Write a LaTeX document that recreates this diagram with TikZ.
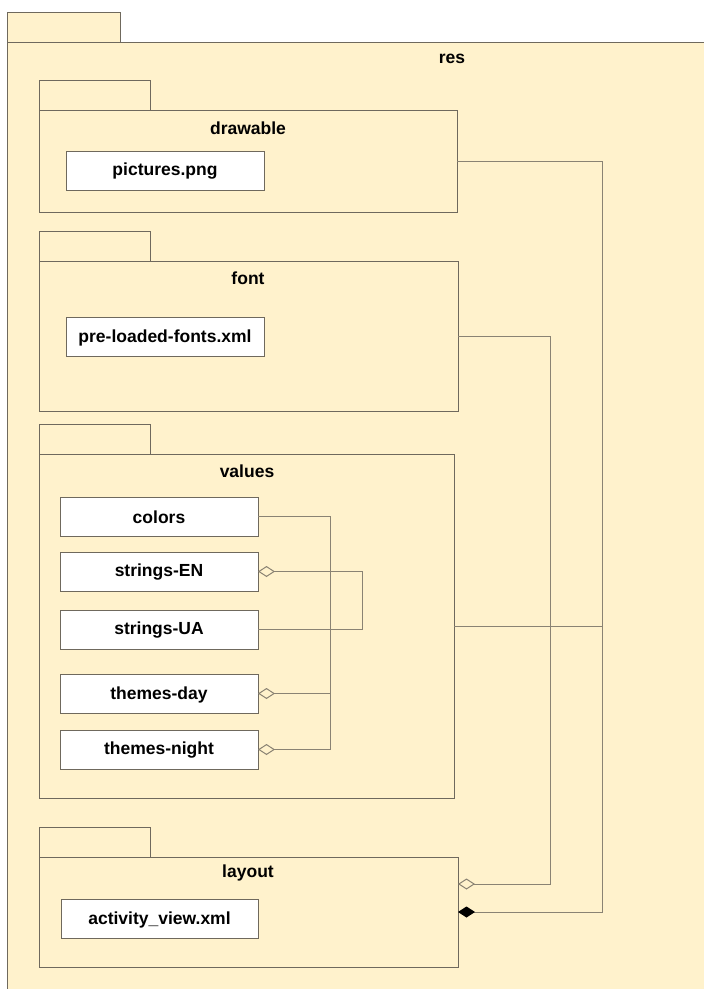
\documentclass[tikz,border=0pt]{standalone}
\usepackage{fontspec}
\setmainfont{Liberation Sans}
\usetikzlibrary{arrows.meta,calc}
\definecolor{pkgfill}{HTML}{FFF2CC}
\definecolor{pkgline}{HTML}{6F695D}
\definecolor{conline}{HTML}{8A8373}
\begin{document}
\begin{tikzpicture}[x=1pt,y=-1pt,
  pkg/.style={draw=pkgline,fill=pkgfill,line width=1pt,anchor=north west,inner sep=0pt,outer sep=0pt},
  item/.style={draw=pkgline,fill=white,line width=1pt,anchor=north west,inner sep=0pt,outer sep=0pt,
    minimum height=39pt},
  title/.style={font=\fontsize{17.5}{20}\selectfont\bfseries,inner sep=0pt},
  con/.style={draw=conline,line width=1pt},
  agg/.style={con,-{Diamond[open,length=17pt,width=11pt,fill=pkgfill]}},
  comp/.style={con,-{Diamond[length=17pt,width=11pt,color=black]}}
]
\clip (0,0) rectangle (704,989);
\fill[white] (0,0) rectangle (704,989);
% outer package res
\node[pkg,minimum width=113pt,minimum height=30pt] (restab) at (7,12) {};
\node[pkg,minimum width=900pt,minimum height=980pt] (res) at (7,42) {};
\node[title] (reslbl) at (452,59) {res};
% drawable
\node[pkg,minimum width=111pt,minimum height=30pt] (drawtab) at (39,80) {};
\node[pkg,minimum width=418pt,minimum height=102pt] (drawable) at (39,110) {};
\node[title] (drawlbl) at (248,128) {drawable};
\node[item,minimum width=198pt] (pictures) at (66,151) {};
\node[title] (pictxt) at ($(pictures.center)+(0,1)$) {pictures.png};
% font
\node[pkg,minimum width=111pt,minimum height=30pt] (fonttab) at (39,231) {};
\node[pkg,minimum width=419pt,minimum height=150pt] (font) at (39,261) {};
\node[title] (fontlbl) at (248,278) {font};
\node[item,minimum width=198pt] (fonts) at (66,317) {};
\node[title] (fontstxt) at ($(fonts.center)+(0,1)$) {pre-loaded-fonts.xml};
% values
\node[pkg,minimum width=111pt,minimum height=30pt] (valtab) at (39,424) {};
\node[pkg,minimum width=415pt,minimum height=344pt] (values) at (39,454) {};
\node[title] (vallbl) at (247,471) {values};
\node[item,minimum width=198pt] (colors) at (60,497) {};
\node[title] at ($(colors.center)+(0,1)$) {colors};
\node[item,minimum width=198pt] (sen) at (60,552) {};
\node[title] at ($(sen.center)+(0,1)$) {strings-EN};
\node[item,minimum width=198pt] (sua) at (60,610) {};
\node[title] at ($(sua.center)+(0,1)$) {strings-UA};
\node[item,minimum width=198pt] (tday) at (60,674) {};
\node[title] at ($(tday.center)+(0,1)$) {themes-day};
\node[item,minimum width=198pt] (tnight) at (60,730) {};
\node[title] at ($(tnight.center)+(0,1)$) {themes-night};
% layout
\node[pkg,minimum width=111pt,minimum height=30pt] (laytab) at (39,827) {};
\node[pkg,minimum width=419pt,minimum height=110pt] (layout) at (39,857) {};
\node[title] (laylbl) at (248,873) {layout};
\node[item,minimum width=197pt] (activity) at (61,899) {};
\node[title] at ($(activity.center)+(0,1)$) {activity\_view.xml};
% connector columns
\coordinate (c1) at (330,0);
\coordinate (c2) at (362,0);
\coordinate (c3) at (550,0);
\coordinate (c4) at (602,0);
\coordinate (layup) at ($(layout.east)+(0,-28)$);
% connectors inside values
\draw[agg] (colors.east) -- (colors.east -| c1) -- (tnight.east -| c1) -- (tnight.east);
\draw[agg] (tday.east -| c1) -- (tday.east);
\draw[agg] (sua.east) -- (sua.east -| c2) -- (sen.east -| c2) -- (sen.east);
% connectors to layout
\draw[agg] (font.east) -- (font.east -| c3) -- (layup -| c3) -- (layup);
\draw[comp] (drawable.east) -- (drawable.east -| c4) -- (layout.east -| c4) -- (layout.east);
\draw[con] (values.east) -- (values.east -| c4);
\end{tikzpicture}
\end{document}
